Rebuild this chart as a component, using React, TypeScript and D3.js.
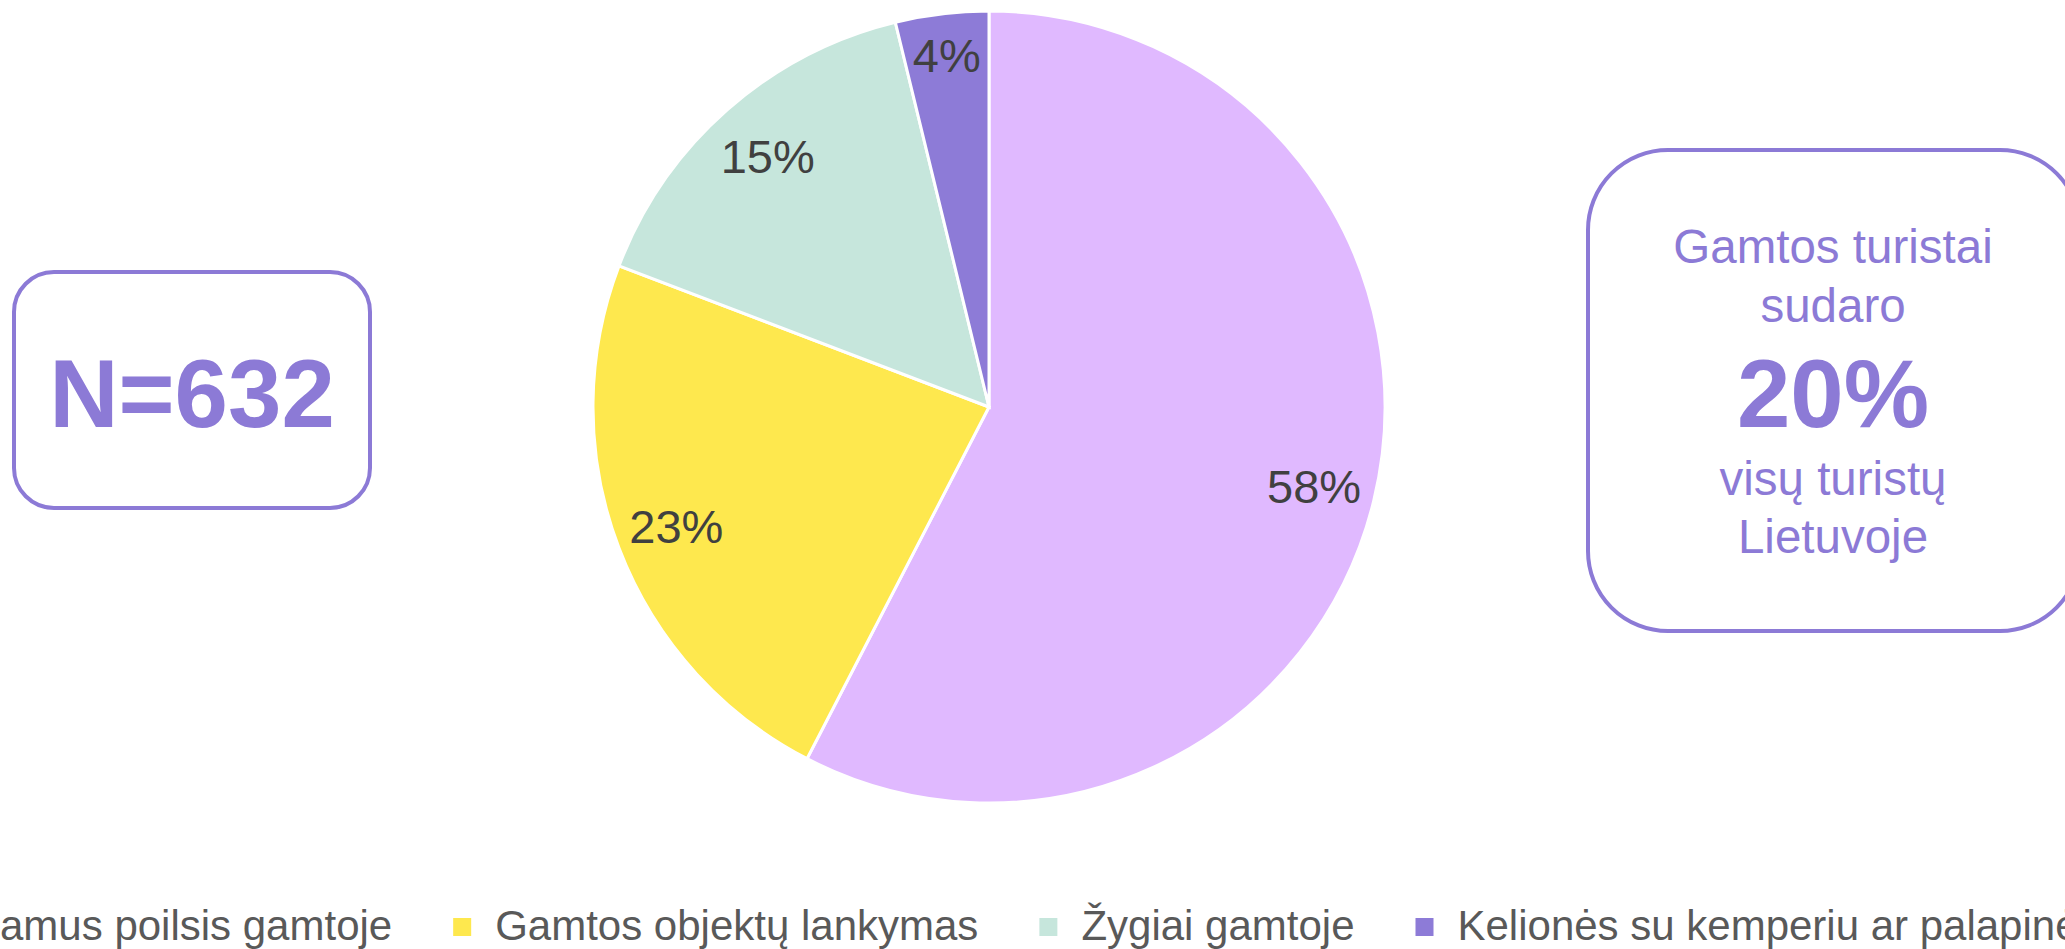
import React, { useMemo } from "react";
import * as d3 from "d3";

const categories = [
  "Ramus poilsis gamtoje",
  "Gamtos objektų lankymas",
  "Žygiai gamtoje",
  "Kelionės su kemperiu ar palapinėmis",
];
const values = [57.6, 23.2, 15.4, 3.8];
const labels = ["58%", "23%", "15%", "4%"];
const colors = ["#E0B9FF", "#FEE84E", "#C6E6DC", "#8D7BD7"];

const sampleText = "N=632";
const infoLines = ["Gamtos turistai", "sudaro"];
const infoBig = "20%";
const infoLinesAfter = ["visų turistų", "Lietuvoje"];

const W = 2065;
const H = 949;
const FONT = "'Liberation Sans', Arial, Helvetica, sans-serif";
const ACCENT = "#8C7AD6";

function measure(text: string, font: string): number {
  const c = document.createElement("canvas");
  const ctx = c.getContext("2d");
  if (!ctx) return text.length * 20;
  ctx.font = font;
  return ctx.measureText(text).width;
}

export default function App() {
  const cx = 989;
  const cy = 407;
  const r = 396;
  const legendFont = 42;

  const pie = d3
    .pie<number>()
    .sort(null)
    .value((d) => d)
    .startAngle(0)
    .endAngle(2 * Math.PI);
  const arcs = pie(values);
  const arc = d3.arc<d3.PieArcDatum<number>>().innerRadius(0).outerRadius(r);

  const legend = useMemo(() => {
    const font = `${legendFont}px ${FONT}`;
    const firstLetter = measure(categories[0].charAt(0), font);
    let x = -firstLetter - 42;
    return categories.map((c, i) => {
      const item = { x, text: c, color: colors[i] };
      x += 42 + measure(c, font) + 61;
      return item;
    });
  }, []);

  return (
    <svg
      width={W}
      height={H}
      style={{ position: "absolute", left: 0, top: 0, background: "#fff" }}
      fontFamily={FONT}
    >
      <g transform={`translate(${cx},${cy})`}>
        {arcs.map((a, i) => (
          <path key={i} d={arc(a) || ""} fill={colors[i]} stroke="#fff" strokeWidth={3} />
        ))}
        {arcs.map((a, i) => {
          const span = a.endAngle - a.startAngle;
          const lr = span < 0.35 ? r * 0.895 : r * 0.845;
          const [lx, ly] = d3.arc<d3.PieArcDatum<number>>().innerRadius(lr).outerRadius(lr).centroid(a);
          return (
            <text
              key={i}
              x={lx}
              y={ly}
              textAnchor="middle"
              dominantBaseline="central"
              fontSize={47}
              fill="#404040"
            >
              {labels[i]}
            </text>
          );
        })}
      </g>

      {/* N box */}
      <rect x={14} y={272} width={356} height={236} rx={40} ry={40} fill="#fff" stroke={ACCENT} strokeWidth={4} />
      <text x={192} y={427} textAnchor="middle" fontSize={96} fontWeight="bold" fill={ACCENT}>
        {sampleText}
      </text>

      {/* info box */}
      <rect x={1588} y={150} width={492} height={481} rx={80} ry={80} fill="#fff" stroke={ACCENT} strokeWidth={4} />
      {infoLines.map((t, i) => (
        <text key={t} x={1833} y={263 + i * 59} textAnchor="middle" fontSize={47.5} fill={ACCENT}>
          {t}
        </text>
      ))}
      <text x={1833} y={427} textAnchor="middle" fontSize={96} fontWeight="bold" fill={ACCENT}>
        {infoBig}
      </text>
      {infoLinesAfter.map((t, i) => (
        <text key={t} x={1833} y={495 + i * 58} textAnchor="middle" fontSize={47.5} fill={ACCENT}>
          {t}
        </text>
      ))}

      {/* legend */}
      {legend.map((l, i) => (
        <g key={i}>
          <rect x={l.x} y={918} width={18} height={18} fill={l.color} />
          <text x={l.x + 42} y={940} fontSize={legendFont} fill="#595959">
            {l.text}
          </text>
        </g>
      ))}
    </svg>
  );
}
